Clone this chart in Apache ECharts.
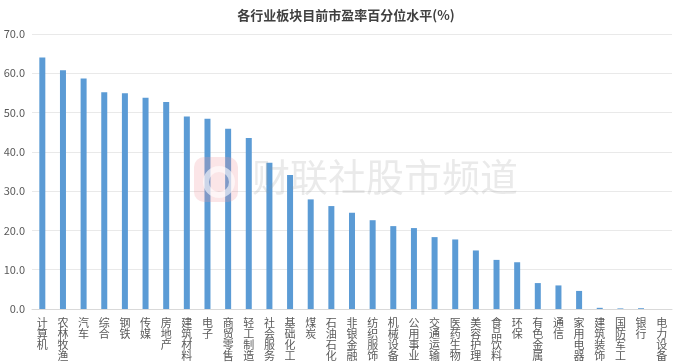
<!DOCTYPE html>
<html>
<head>
<meta charset="utf-8">
<script src="https://cdn.jsdelivr.net/npm/echarts@6/dist/echarts.min.js"></script>
<style>html,body{margin:0;padding:0;background:#fff}#c{width:692px;height:362px}</style>
</head>
<body>
<div id="c"></div>
<script>
var titleText = '各行业板块目前市盈率百分位水平(%)';
var categories = ['计算机','农林牧渔','汽车','综合','钢铁','传媒','房地产','建筑材料','电子','商贸零售','轻工制造','社会服务','基础化工','煤炭','石油石化','非银金融','纺织服饰','机械设备','公用事业','交通运输','医药生物','美容护理','食品饮料','环保','有色金属','通信','家用电器','建筑装饰','国防军工','银行','电力设备'];
var values = [64.0,60.8,58.7,55.2,54.9,53.8,52.7,49.0,48.4,45.9,43.5,37.2,34.1,27.9,26.2,24.5,22.6,21.1,20.6,18.3,17.7,14.9,12.5,11.9,6.6,6.0,4.6,0.3,0.15,0.2,0];
var yTicks = [0,10,20,30,40,50,60,70];
var watermarkText = '财联社股市频道';

var chart = echarts.init(document.getElementById('c'), null, {renderer:'canvas'});
var font = '"Microsoft YaHei","Noto Sans CJK SC",sans-serif';
chart.setOption({
  animation:false,
  title:{text:titleText,left:'center',top:4,textStyle:{fontSize:13,fontWeight:'bold',color:'#404040',fontFamily:font}},
  grid:{left:32,right:20,top:34,bottom:53,containLabel:false},
  xAxis:{type:'category',data:categories,
    axisLine:{lineStyle:{color:'#d9d9d9'}},axisTick:{show:false},
    axisLabel:{interval:0,color:'#595959',fontSize:11,lineHeight:11,fontFamily:font,margin:8,verticalAlign:'top',
      formatter:function(v){return v.split('').join('\n');}}},
  yAxis:{type:'value',min:yTicks[0],max:yTicks[yTicks.length-1],interval:10,
    axisLine:{show:false},axisTick:{show:false},
    splitLine:{lineStyle:{color:'#e9e9e9'}},
    axisLabel:{color:'#595959',fontSize:11,fontFamily:font,margin:7,formatter:function(v){return v.toFixed(1);}}},
  series:[{type:'bar',data:values,barWidth:6,itemStyle:{color:'#5b9bd5'}}],
  graphic:[
    {type:'rect',left:194,top:157,z:100,shape:{width:44,height:45,r:10},style:{fill:'rgba(240,150,160,0.25)'}},
    {type:'circle',left:203,top:166,z:101,shape:{r:13},style:{fill:'none',stroke:'rgba(255,255,255,0.6)',lineWidth:6}},
    {type:'text',left:252,top:158,z:100,style:{text:watermarkText,fontSize:38,fontFamily:font,fill:'rgba(150,150,150,0.2)'}}
  ]
});
</script>
</body>
</html>
